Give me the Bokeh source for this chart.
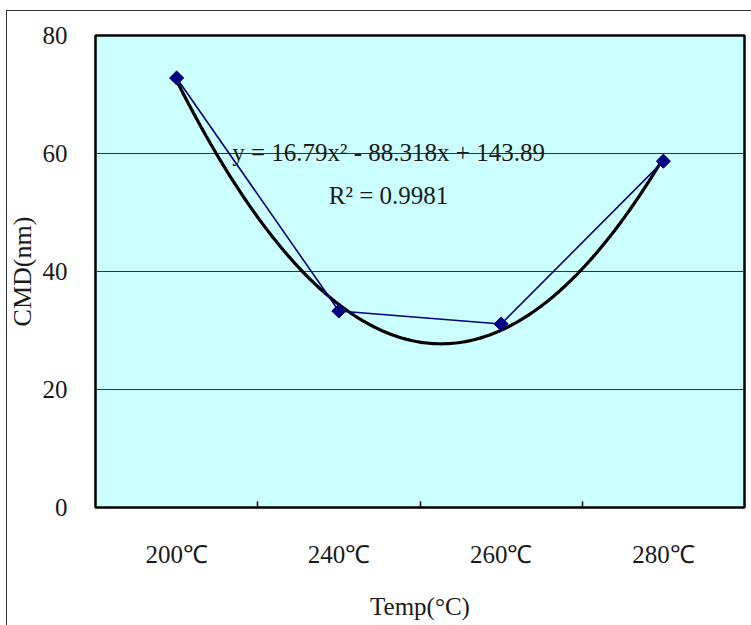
import numpy as np
from bokeh.plotting import figure
from bokeh.models import (LinearAxis, FixedTicker, Range1d, Label, Grid,
                          ColumnDataSource, InlineStyleSheet)
from bokeh.embed import file_html
from bokeh.resources import INLINE

# ---- data ----
categories = ["200℃", "240℃", "260℃", "280℃"]
x_pos = [1, 2, 3, 4]
cmd_nm = [72.8, 33.3, 31.1, 58.7]
trend_coef = [16.79, -88.318, 143.89]   # polynomial trend shown on chart
y_ticks = [0, 20, 40, 60, 80]
equation_text = "y = 16.79x² - 88.318x + 143.89"
r2_text = "R² = 0.9981"
x_title = "Temp(°C)"
y_title = "CMD(nm)"

FONT = "Liberation Serif"

p = figure(width=751, height=625, output_backend="svg", toolbar_location=None,
           x_range=Range1d(0.5, 4.5), y_range=Range1d(0, 80),
           x_axis_location=None, y_axis_location=None,
           min_border_left=95, min_border_right=7, min_border_top=35, min_border_bottom=118)
p.background_fill_color = "#CCFFFF"
p.border_fill_color = "white"
p.outline_line_color = "black"
p.outline_line_width = 2.5

# y axis
yax = LinearAxis(ticker=FixedTicker(ticks=y_ticks))
yax.axis_line_color = None
yax.major_tick_line_color = None
yax.minor_tick_line_color = None
yax.major_label_text_font = FONT
yax.major_label_text_font_size = "25px"
yax.major_label_text_color = "#1a1a1a"
yax.major_label_standoff = 22
yax.axis_label = y_title
yax.axis_label_text_font = FONT
yax.axis_label_text_font_size = "26px"
yax.axis_label_text_font_style = "normal"
yax.axis_label_text_color = "#1a1a1a"
yax.axis_label_standoff = 3
p.add_layout(yax, "left")

# x axis: tick marks at category boundaries
xax_ticks = LinearAxis(ticker=FixedTicker(ticks=[1.5, 2.5, 3.5]))
xax_ticks.axis_line_color = None
xax_ticks.major_tick_in = 6
xax_ticks.major_tick_out = 0
xax_ticks.major_tick_line_color = "black"
xax_ticks.major_tick_line_width = 1.5
xax_ticks.minor_tick_line_color = None
xax_ticks.major_label_text_font_size = "0px"
xax_ticks.major_label_overrides = {1.5: "", 2.5: "", 3.5: ""}
xax_ticks.major_label_standoff = 0
p.add_layout(xax_ticks, "below")

# x axis: category labels
xax = LinearAxis(ticker=FixedTicker(ticks=x_pos))
xax.major_label_overrides = {x: c for x, c in zip(x_pos, categories)}
xax.axis_line_color = None
xax.major_tick_line_color = None
xax.minor_tick_line_color = None
xax.major_label_text_font = FONT
xax.major_label_text_font_size = "25px"
xax.major_label_text_color = "#1a1a1a"
xax.major_label_standoff = 27
xax.axis_label = x_title
xax.axis_label_text_font = FONT
xax.axis_label_text_font_size = "25px"
xax.axis_label_text_font_style = "normal"
xax.axis_label_text_color = "#1a1a1a"
xax.axis_label_standoff = 22
p.add_layout(xax, "below")

# grid
p.xgrid.visible = False
p.ygrid.visible = False
g = Grid(dimension=1, ticker=FixedTicker(ticks=[20, 40, 60]))
g.grid_line_color = "#333333"
g.grid_line_width = 1.2
p.add_layout(g)

# trend line
tx = np.linspace(x_pos[0], x_pos[-1], 200)
ty = np.polyval(trend_coef, tx)
p.line(tx, ty, line_color="black", line_width=3.2)

# data series
src = ColumnDataSource(dict(x=x_pos, y=cmd_nm))
p.line("x", "y", source=src, line_color="#000080", line_width=1.6)
p.scatter("x", "y", source=src, marker="square", angle=np.pi / 4, size=10,
          fill_color="#000080", line_color="#000080")

# equation labels
p.add_layout(Label(x=2.306, y=60.2, text=equation_text, text_font=FONT,
                   text_font_size="25px", text_align="center",
                   text_baseline="alphabetic", text_color="#1a1a1a"))
p.add_layout(Label(x=2.306, y=52.8, text=r2_text, text_font=FONT,
                   text_font_size="25px", text_align="center",
                   text_baseline="alphabetic", text_color="#1a1a1a"))

# outer chart frame (left and top edges visible in the window)
p.stylesheets = [InlineStyleSheet(css="""
:host { position: relative; }
:host::after {
  content: ""; position: absolute; left: 6px; top: 10px; right: -20px; bottom: -20px;
  border-left: 1.5px solid #333333; border-top: 1.5px solid #333333;
  pointer-events: none; z-index: 10;
}
""")]

open("out.html", "w").write(file_html(p, INLINE))
